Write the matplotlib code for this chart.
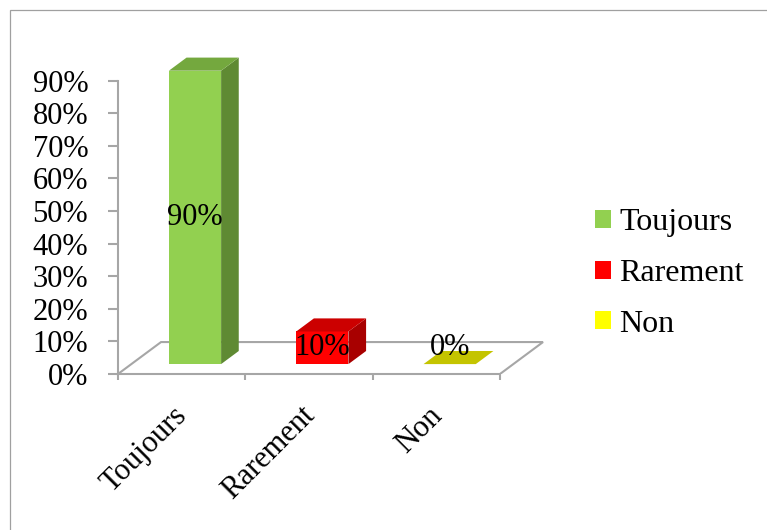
import matplotlib
matplotlib.use("Agg")
import matplotlib.pyplot as plt
from matplotlib.patches import Polygon, Patch, Rectangle
from matplotlib import transforms

# Survey answers (share of respondents, %)
categories = ["Toujours", "Rarement", "Non"]
values = [90, 10, 0]
value_labels = ["90%", "10%", "0%"]
ytick_values = [0, 10, 20, 30, 40, 50, 60, 70, 80, 90]
ytick_labels = ["0%", "10%", "20%", "30%", "40%", "50%", "60%", "70%", "80%", "90%"]

# Face colours: front, side, top
front_colors = ["#92D050", "#FF0000", "#FFFF00"]
side_colors = ["#5F8A33", "#A80000", "#A8A800"]
top_colors = ["#74A83E", "#CC0000", "#C4C400"]

plt.rcParams["font.family"] = ["Liberation Serif", "DejaVu Serif"]
FS = 22
FS_LEG = 23

W, H = 767, 530
fig = plt.figure(figsize=(W / 100, H / 100), dpi=100)
fig.patch.set_facecolor("white")

# Chart area border
fig.patches.append(Rectangle((9.5 / W, -0.1), 2.0, (H - 9.5) / H + 0.1,
                             transform=fig.transFigure, fill=False,
                             edgecolor="#A0A0A0", linewidth=0.9))

# Plot area: 127.3 px per category, 3.26 px per percent
px_cat, px_pct = 127.33, 3.26
x0_px, y0_px = 118, 374
xmax, ymax = 3.5, 100
ax = fig.add_axes([x0_px / W, (H - y0_px) / H, xmax * px_cat / W, ymax * px_pct / H])
ax.set_xlim(0, xmax)
ax.set_ylim(0, ymax)
ax.patch.set_alpha(0)

# Perspective offset of the floor depth (in data units)
depth_dx, depth_dy = 0.338, 9.8
axis_gray = "#A6A6A6"
n = len(categories)

# Floor outline
ax.plot([0, depth_dx, n + depth_dx, n], [0, depth_dy, depth_dy, 0],
        color=axis_gray, lw=1.5, zorder=1, solid_joinstyle="miter")

for s in ["top", "right"]:
    ax.spines[s].set_visible(False)
ax.spines["left"].set_bounds(0, 90)
ax.spines["bottom"].set_bounds(0, n)
for s in ["left", "bottom"]:
    ax.spines[s].set_color(axis_gray)
    ax.spines[s].set_linewidth(1.5)

ax.set_yticks(ytick_values)
ax.set_yticklabels(ytick_labels, fontsize=FS)
ax.set_xticks(range(n + 1))
ax.set_xticklabels([])
ax.tick_params(axis="y", direction="out", length=7.5, width=1.5, color=axis_gray, pad=14)
ax.tick_params(axis="x", direction="out", length=4.5, width=1.5, color=axis_gray)

# 3-D style bars: front face sits at 31% of the floor depth, bar depth 41%
f_front, f_depth, bar_w = 0.31, 0.41, 0.41
bdx, bdy = f_depth * depth_dx, f_depth * depth_dy
for i, v in enumerate(values):
    cx = i + 0.5 + f_front * depth_dx
    base = f_front * depth_dy
    xl, xr = cx - bar_w / 2, cx + bar_w / 2
    if v > 0:
        ax.bar(cx, v, width=bar_w, bottom=base, color=front_colors[i],
               linewidth=0, zorder=3)
        ax.add_patch(Polygon([(xr, base), (xr + bdx, base + bdy),
                              (xr + bdx, base + bdy + v), (xr, base + v)],
                             closed=True, facecolor=side_colors[i],
                             edgecolor="none", zorder=3))
    top = base + v
    ax.add_patch(Polygon([(xl, top), (xr, top), (xr + bdx, top + bdy),
                          (xl + bdx, top + bdy)],
                         closed=True, facecolor=top_colors[i],
                         edgecolor="none", zorder=3))
    ax.text(cx, base + max(v, 10) / 2, value_labels[i], fontsize=FS,
            ha="center", va="center", zorder=5)

# Rotated category labels under the front edge
lab_tr = transforms.offset_copy(ax.transData, fig=fig, x=-9, y=-27, units="dots")
for i, c in enumerate(categories):
    ax.text(i + 0.5, 0, c, transform=lab_tr, rotation=45, rotation_mode="anchor",
            ha="right", va="top", fontsize=FS)

handles = [Patch(facecolor=front_colors[i], edgecolor="none", label=c)
           for i, c in enumerate(categories)]
fig.legend(handles=handles, loc="center left",
           bbox_to_anchor=(595 / W, (H - 273.5) / H), frameon=False,
           fontsize=FS_LEG, handlelength=0.5, handleheight=0.5,
           handletextpad=0.25, labelspacing=0.68, borderpad=0, borderaxespad=0)

fig.savefig("out.png", dpi=100, facecolor="white")
